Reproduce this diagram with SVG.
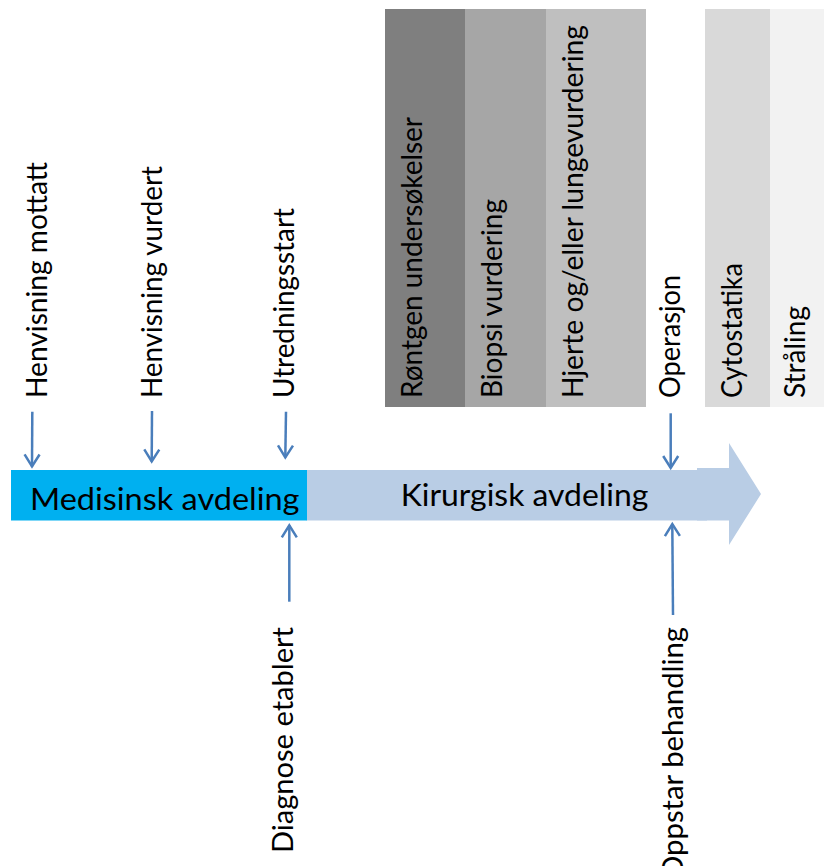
<svg xmlns="http://www.w3.org/2000/svg" width="824" height="866" viewBox="0 0 824 866">
<defs>
<marker id="head" markerUnits="userSpaceOnUse" markerWidth="20" markerHeight="20" viewBox="-14 -10 16 20" refX="0" refY="0" orient="auto">
<path d="M-12,-7.5 L0,0 L-12,7.5" fill="none" stroke="#4a7ebb" stroke-width="2.5" stroke-linejoin="miter"/>
</marker>
<style>
.lbl{font-family:Lato,"Open Sans","Liberation Sans",sans-serif;font-size:28px;fill:#000}
.big{font-family:Lato,"Open Sans","Liberation Sans",sans-serif;font-size:31px;fill:#000}
.conn{stroke:#4a7ebb;stroke-width:2.5;fill:none;marker-end:url(#head)}
</style>
</defs>
<rect width="824" height="866" fill="#fff"/>
<g id="bar-rontgen"><rect x="385" y="9" width="80.5" height="398" fill="#7f7f7f"/>
<text class="lbl" transform="translate(422,398) rotate(-90)" textLength="281" lengthAdjust="spacingAndGlyphs">Røntgen undersøkelser</text></g>
<g id="bar-biopsi"><rect x="465" y="9" width="81.5" height="398" fill="#a6a6a6"/>
<text class="lbl" transform="translate(502,398) rotate(-90)" textLength="199" lengthAdjust="spacingAndGlyphs">Biopsi vurdering</text></g>
<g id="bar-hjerte"><rect x="546" y="9" width="100" height="398" fill="#bfbfbf"/>
<text class="lbl" transform="translate(583,398) rotate(-90)" textLength="373" lengthAdjust="spacingAndGlyphs">Hjerte og/eller lungevurdering</text></g>
<g id="operasjon"><text class="lbl" transform="translate(680,398) rotate(-90)" textLength="123" lengthAdjust="spacingAndGlyphs">Operasjon</text></g>
<g id="bar-cytostatika"><rect x="705" y="9" width="65.5" height="398" fill="#d9d9d9"/>
<text class="lbl" transform="translate(742,398) rotate(-90)" textLength="135" lengthAdjust="spacingAndGlyphs">Cytostatika</text></g>
<g id="bar-straling"><rect x="770" y="9" width="54" height="398" fill="#f2f2f2"/>
<text class="lbl" transform="translate(805,398) rotate(-90)" textLength="92" lengthAdjust="spacingAndGlyphs">Stråling</text></g>
<g id="henvisning-mottatt"><text class="lbl" transform="translate(46.5,398) rotate(-90)" textLength="236" lengthAdjust="spacingAndGlyphs">Henvisning mottatt</text></g>
<g id="henvisning-vurdert"><text class="lbl" transform="translate(161.5,398) rotate(-90)" textLength="232" lengthAdjust="spacingAndGlyphs">Henvisning vurdert</text></g>
<g id="utredningsstart"><text class="lbl" transform="translate(294,398) rotate(-90)" textLength="190" lengthAdjust="spacingAndGlyphs">Utredningsstart</text></g>
<g id="diagnose-etablert"><text class="lbl" transform="translate(293,853) rotate(-90)" textLength="226" lengthAdjust="spacingAndGlyphs">Diagnose etablert</text></g>
<g id="oppstart-behandling"><text class="lbl" transform="translate(683,879) rotate(-90)" textLength="252" lengthAdjust="spacingAndGlyphs">Oppstar behandling</text></g>
<g id="kirurgisk-avdeling">
<polygon points="697,468 729,468 729,443 761,494 729,545 729,520.5 697,520.5" fill="#b9cde5"/>
<rect x="306.5" y="470" width="400.5" height="50.5" fill="#b9cde5"/>
<text class="big" x="400.7" y="506" textLength="247.6" lengthAdjust="spacingAndGlyphs">Kirurgisk avdeling</text>
</g>
<g id="medisinsk-avdeling">
<rect x="11" y="470" width="296" height="50.5" fill="#00b0f0"/>
<text class="big" x="30" y="509.5" textLength="269.5" lengthAdjust="spacingAndGlyphs">Medisinsk avdeling</text>
</g>
<g id="connectors">
<line class="conn" x1="32.3" y1="411.7" x2="32" y2="466.5"/>
<line class="conn" x1="152" y1="411" x2="151.7" y2="461.5"/>
<line class="conn" x1="286" y1="411.7" x2="285.3" y2="457.5"/>
<line class="conn" x1="670.7" y1="413.3" x2="670.7" y2="468"/>
<line class="conn" x1="289.3" y1="601.7" x2="289.3" y2="525.3"/>
<line class="conn" x1="673" y1="615" x2="672.3" y2="524"/>
</g>
</svg>
